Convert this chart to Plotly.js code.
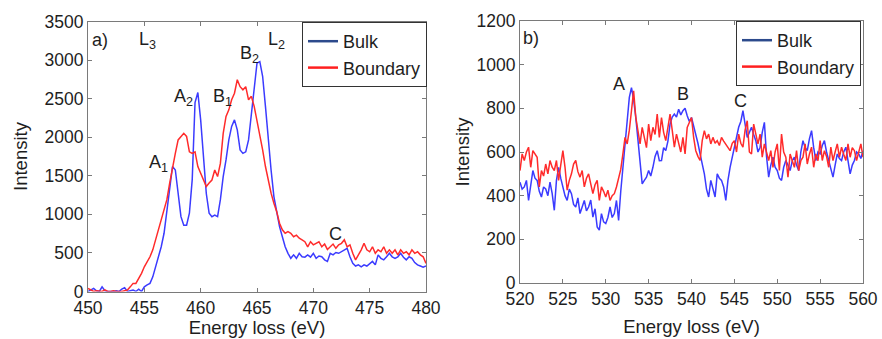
<!DOCTYPE html>
<html>
<head>
<meta charset="utf-8">
<script src="https://cdn.plot.ly/plotly-3.0.1.min.js"></script>
<style>html,body{margin:0;padding:0;background:#fff;}#chart{width:882px;height:339px;}</style>
</head>
<body>
<div id="chart"></div>
<script>
// ---------- Panel a) Ti L-edge : 450..480 eV, step 0.25 ----------
const aStart = 450, aStep = 0.25;
const bulkA = [
  0, 20, 40, 10,
  0, 60, 10, 0,
  0, 0, 10, 0,
  30, 50, 0, 10,
  20, 0, 30, 0,
  60, 85, 105, 190,
  320, 450, 580, 755,
  1055, 1360, 1620, 1575,
  1270, 970, 860, 860,
  1015, 1450, 2450, 2580,
  2225, 1790, 1270, 1015,
  970, 990, 970, 1190,
  1490, 1705, 1965, 2140,
  2225, 2095, 1835, 1790,
  1810, 1965, 2270, 2655,
  2960, 2980, 2790, 2400,
  1965, 1575, 1230, 1015,
  840, 710, 580, 495,
  430, 475, 430, 495,
  450, 445, 475, 445,
  495, 430, 460, 450,
  410, 390, 495, 475,
  505, 495, 515, 540,
  560, 450, 365, 330,
  345, 320, 345, 330,
  365, 390, 345, 475,
  430, 410, 450, 495,
  450, 430, 450, 495,
  445, 410, 450, 430,
  375, 345, 330, 315,
  330
];
const boundaryA = [
  40, 20, 0, 10,
  0, 0, 20, 0,
  0, 10, 0, 0,
  0, 10, 20, 60,
  105, 105, 170, 235,
  320, 385, 450, 540,
  670, 800, 925, 1035,
  1190, 1405, 1575, 1790,
  1965, 2010, 2050, 2010,
  1810, 1790, 1810, 1620,
  1530, 1445, 1360, 1405,
  1445, 1575, 1490, 1660,
  2050, 2270, 2355, 2485,
  2570, 2745, 2655, 2615,
  2655, 2485, 2530, 2400,
  2225, 2010, 1835, 1620,
  1445, 1275, 1145, 1035,
  885, 800, 755, 775,
  755, 710, 730, 690,
  670, 645, 580, 645,
  605, 625, 645, 580,
  615, 545, 580, 615,
  560, 605, 625, 670,
  580, 605, 495, 410,
  475, 540, 625, 540,
  515, 580, 495, 540,
  515, 580, 495, 540,
  495, 540, 475, 540,
  495, 515, 475, 540,
  495, 515, 475, 450,
  365
];

// ---------- Panel b) O K-edge : 520..560 eV, step 0.25 ----------
const bStart = 520, bStep = 0.25;
const bulkB = [
  462, 430, 440, 470,
  378, 450, 515, 480,
  470, 420, 394, 440,
  431, 400, 462, 410,
  333, 470, 530, 480,
  440, 400, 378, 430,
  409, 360, 348, 390,
  318, 350, 378, 330,
  348, 380, 302, 340,
  257, 242, 318, 280,
  272, 300, 348, 300,
  318, 378, 287, 420,
  530, 620, 713, 850,
  895, 840, 760, 660,
  530, 454, 470, 485,
  515, 490, 530, 580,
  606, 560, 561, 620,
  606, 650, 728, 760,
  774, 760, 796, 770,
  789, 800, 766, 740,
  758, 720, 682, 640,
  591, 540, 500, 430,
  394, 470, 430, 394,
  500, 480, 470, 440,
  378, 470, 530, 580,
  622, 680, 713, 740,
  789, 728, 667, 690,
  713, 680, 652, 600,
  622, 690, 736, 580,
  485, 540, 576, 530,
  515, 480, 470, 530,
  561, 540, 515, 560,
  576, 540, 515, 600,
  652, 620, 606, 660,
  698, 620, 561, 600,
  591, 630, 652, 600,
  561, 520, 485, 540,
  591, 570, 561, 600,
  622, 560, 500, 540,
  561, 600, 591, 570,
  606
];
const boundaryB = [
  515, 591, 561, 600,
  622, 530, 606, 590,
  576, 440, 515, 490,
  545, 500, 561, 530,
  515, 561, 470, 540,
  606, 530, 425, 470,
  500, 545, 561, 510,
  485, 515, 440, 480,
  500, 454, 409, 450,
  470, 378, 440, 420,
  394, 425, 378, 400,
  409, 440, 485, 520,
  591, 667, 637, 700,
  789, 880, 760, 690,
  637, 713, 667, 620,
  728, 652, 713, 680,
  774, 667, 758, 690,
  652, 713, 774, 700,
  622, 682, 637, 600,
  667, 591, 713, 740,
  758, 667, 606, 580,
  561, 652, 698, 660,
  682, 637, 667, 640,
  652, 630, 667, 650,
  637, 620, 606, 640,
  652, 600, 682, 640,
  622, 700, 743, 600,
  591, 728, 680, 637,
  682, 576, 637, 600,
  561, 606, 530, 600,
  637, 515, 682, 600,
  576, 485, 591, 560,
  530, 606, 515, 560,
  576, 637, 545, 590,
  622, 530, 591, 560,
  652, 561, 606, 580,
  530, 622, 561, 600,
  637, 576, 622, 590,
  561, 637, 576, 620,
  606, 561, 600, 637,
  576
];

const seriesNames = ["Bulk", "Boundary"];
const curveColors = ["#3b3bff", "#ff2b2b"];
const legendColors = ["#2c4a8c", "#ff1f1f"];

function energies(start, step, n) { const e = []; for (let i = 0; i < n; i++) e.push(+(start + i * step).toFixed(2)); return e; }
const eA = energies(aStart, aStep, bulkA.length);
const eB = energies(bStart, bStep, bulkB.length);

const lw = 1.5;
const traces = [
  {x: eA, y: bulkA, xaxis: "x", yaxis: "y", mode: "lines", line: {color: curveColors[0], width: lw}, showlegend: false},
  {x: eA, y: boundaryA, xaxis: "x", yaxis: "y", mode: "lines", line: {color: curveColors[1], width: lw}, showlegend: false},
  {x: eB, y: bulkB, xaxis: "x2", yaxis: "y2", mode: "lines", line: {color: curveColors[0], width: lw}, showlegend: false},
  {x: eB, y: boundaryB, xaxis: "x2", yaxis: "y2", mode: "lines", line: {color: curveColors[1], width: lw}, showlegend: false},
  {x: [null], y: [null], xaxis: "x", yaxis: "y", mode: "lines", name: seriesNames[0], line: {color: legendColors[0], width: 2.5}, legend: "legend"},
  {x: [null], y: [null], xaxis: "x", yaxis: "y", mode: "lines", name: seriesNames[1], line: {color: legendColors[1], width: 2.5}, legend: "legend"},
  {x: [null], y: [null], xaxis: "x2", yaxis: "y2", mode: "lines", name: seriesNames[0], line: {color: legendColors[0], width: 2.5}, legend: "legend2"},
  {x: [null], y: [null], xaxis: "x2", yaxis: "y2", mode: "lines", name: seriesNames[1], line: {color: legendColors[1], width: 2.5}, legend: "legend2"}
];

const W = 882, H = 339;
const font = "Liberation Sans, Arial, Helvetica, sans-serif";
const txt = "#1e1e1e";
const axCommon = {
  showline: true, mirror: "ticks", ticks: "inside", ticklen: 4, tickwidth: 1,
  tickcolor: "#7a7a7a", linecolor: "#7a7a7a", linewidth: 1,
  showgrid: false, zeroline: false,
  tickfont: {family: font, size: 17.5, color: txt}
};
function ax(extra) { return Object.assign({}, axCommon, extra); }
const xTitle = "Energy loss (eV)", yTitle = "Intensity";
const titleFont = {family: font, size: 18.5, color: txt};

const layout = {
  width: W, height: H,
  margin: {l: 0, r: 0, t: 0, b: 0},
  paper_bgcolor: "#fff", plot_bgcolor: "#fff",
  font: {family: font, size: 17, color: txt},
  xaxis: ax({domain: [88 / W, 426 / W], range: [450, 480], dtick: 5, tick0: 450, anchor: "y",
    title: {text: xTitle, font: titleFont, standoff: 4}}),
  yaxis: ax({domain: [(H - 291.5) / H, (H - 21.5) / H], range: [0, 3500], dtick: 500, anchor: "x",
    title: {text: yTitle, font: titleFont, standoff: 12}}),
  xaxis2: ax({domain: [520 / W, 863 / W], range: [520, 560], dtick: 5, tick0: 520, anchor: "y2",
    title: {text: xTitle, font: titleFont, standoff: 12}}),
  yaxis2: ax({domain: [(H - 283) / H, (H - 21) / H], range: [0, 1200], dtick: 200, anchor: "x2",
    title: {text: yTitle, font: titleFont, standoff: 2}}),
  legend: {x: 302 / W, y: 1 - 22 / H, xanchor: "left", yanchor: "top", bgcolor: "#fff",
    bordercolor: "#333", borderwidth: 1, font: {family: font, size: 18, color: txt},
    tracegroupgap: 0, itemwidth: 30},
  legend2: {x: 736 / W, y: 1 - 21 / H, xanchor: "left", yanchor: "top", bgcolor: "#fff",
    bordercolor: "#333", borderwidth: 1, font: {family: font, size: 18, color: txt},
    tracegroupgap: 0, itemwidth: 30},
  annotations: []
};

function lab(text, xr, yr, x, y) {
  return {text: text, xref: xr, yref: yr, x: x, y: y, showarrow: false,
    font: {family: font, size: 18, color: txt}, xanchor: "center", yanchor: "middle"};
}
layout.annotations.push(lab("a)", "x", "y", 451.1, 3260));
layout.annotations.push(lab("L<sub>3</sub>", "x", "y", 455.3, 3260));
layout.annotations.push(lab("L<sub>2</sub>", "x", "y", 466.7, 3260));
layout.annotations.push(lab("A<sub>1</sub>", "x", "y", 456.3, 1660));
layout.annotations.push(lab("A<sub>2</sub>", "x", "y", 458.5, 2520));
layout.annotations.push(lab("B<sub>1</sub>", "x", "y", 461.9, 2520));
layout.annotations.push(lab("B<sub>2</sub>", "x", "y", 464.3, 3070));
layout.annotations.push(lab("C", "x", "y", 472.0, 740));
layout.annotations.push(lab("b)", "x2", "y2", 521.3, 1120));
layout.annotations.push(lab("A", "x2", "y2", 531.5, 910));
layout.annotations.push(lab("B", "x2", "y2", 539.0, 865));
layout.annotations.push(lab("C", "x2", "y2", 545.7, 835));

Plotly.newPlot("chart", traces, layout, {displayModeBar: false, staticPlot: true});
</script>
</body>
</html>
